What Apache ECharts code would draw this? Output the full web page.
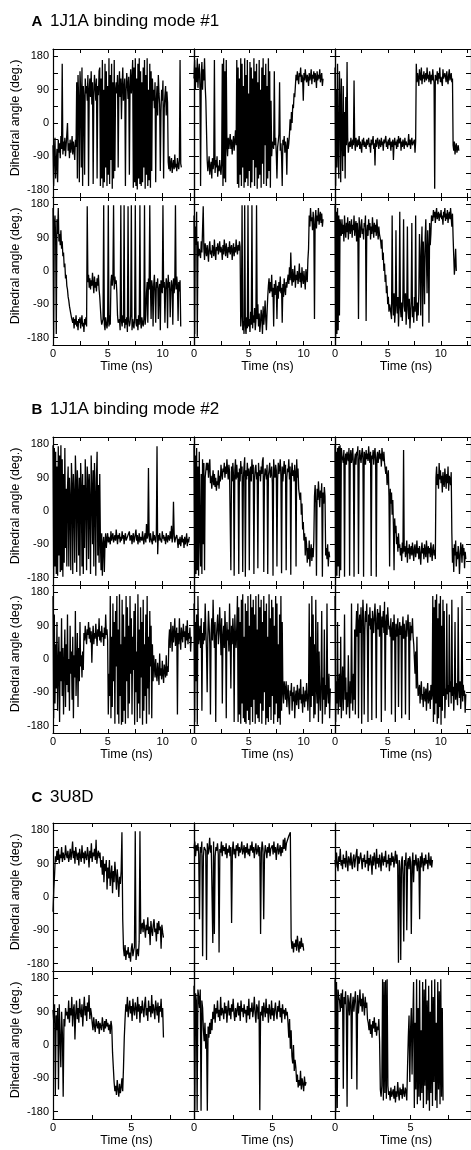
<!DOCTYPE html>
<html><head><meta charset="utf-8">
<script src="https://cdn.jsdelivr.net/npm/echarts@6/dist/echarts.min.js"></script>
<style>html,body{margin:0;padding:0;background:#fff}#c{width:471px;height:1150px}</style>
</head><body><div id="c"></div>
<script>
// ---- sampling steps (ns) ----
const dtA = 0.06, dtB = 0.06, dtC = 0.05;
// ---- tick labels ----
const yTicks = [-180,-135,-90,-45,0,45,90,135,180];
const yLabels = [-180,-90,0,90,180];
const xTicksAB = [0,2.5,5,7.5,10,12.5];
const xLabelsAB = [0,5,10];
const xTicksC = [0,2.5,5,7.5];
const xLabelsC = [0,5];
const titles = [['A','1J1A binding mode #1'],['B','1J1A binding mode #2'],['C','3U8D']];
const yName = 'Dihedral angle (deg.)';
const xName = 'Time (ns)';

// ---- A: 1J1A binding mode #1 ----
const a11 = [-60,-170,-90,-40,-150,-110,-70,-160,
 -45,-80,-55,-95,-35,-70,160,-85,-50,-75,-40,-90,-60,-30,0,-75,-55,-95,-45,-80,-65,-35,-85,-50,-70,-100,-45,-65,
 110,-150,130,60,-160,140,90,-120,150,-170,100,70,-140,120,80,
 100,60,130,-170,90,120,70,140,50,110,-165,80,130,95,60,120,-150,100,75,140,
 150,-170,120,-150,170,-175,90,-160,160,-120,140,-170,100,-140,175,-165,130,-100,160,-178,110,-150,170,-130,90,
 110,80,130,-120,95,140,70,120,10,100,150,60,90,120,-170,85,135,105,65,125,-140,95,145,80,115,
 170,-175,150,-160,175,-170,120,-180,160,-150,175,-165,140,-170,110,-160,150,-120,170,-178,130,-140,175,-170,90,-155,160,-175,140,-130,120,60,
 90,40,110,-160,60,100,20,130,80,50,-130,30,90,60,115,-150,40,75,100,20,85,55,
 -105,-125,-90,-130,-110,-95,-135,-115,-100,-125,-85,-120,-110,-130,-95,-115,-125,-100,170,-110,-120];
const a12 = [120,170,90,150,110,175,95,140,160,100,-170,130,165,90,145,115,175,100,60,-20,
 -100,-130,-110,-90,-140,-120,-105,-150,-95,-125,-110,170,-135,-100,-120,-90,-145,-115,-130,-100,-125,-140,-110,
 160,-170,175,-150,140,-160,170,-60,-90,-40,-70,-50,
 -30,-70,-45,-85,-55,-35,-75,-50,-20,-60,
 170,-165,150,-175,120,-140,175,-170,160,-120,100,-175,175,-160,130,-150,170,-170,80,-130,165,-175,150,-160,120,-100,175,-170,140,-120,160,-178,110,-150,170,-140,90,-175,150,-110,175,-165,130,-60,160,-170,100,-150,175,-130,140,-175,60,-90,-50,
 -45,-70,140,-60,-40,-85,-150,-65,-50,-30,110,-75,-55,-90,-170,-45,-60,-35,-80,-50,-65,-140,-40,-70,-55,
 -30,10,-20,30,0,50,40,80,70,100,
 130,115,140,120,105,135,125,150,110,130,120,60,135,115,145,125,110,130,120,100,135,115,125,145,105,130,120,140,110,135,125,95,140,115,130,120,145,110,125,135,100,120];
const a13 = [150,-170,90,-120,160,-80,-150,140,60,-160,120,-40,-130,100,-90,30,-150,70,-60,165,-40,-80,-60,
 -50,-65,-40,-55,-70,-45,-60,115,-50,-75,-40,-55,-65,-45,-60,-35,-70,-50,-55,-80,-45,-60,-40,-65,-50,-55,-70,-45,-60,-50,
 -40,-65,-55,-80,-45,-60,-50,-35,-70,-55,-115,-45,-65,-50,-40,-60,-70,-45,-55,-65,-40,-60,-50,-75,-45,-55,-60,-35,-65,-50,
 -70,-45,-60,-40,-55,-75,-50,-65,-45,-100,-55,-40,-60,-50,-70,-45,-65,-35,-55,-60,-40,-75,-50,-65,-45,-55,-70,-40,-60,-50,
 -45,-65,-55,-30,-60,-45,-70,-50,-40,-60,-55,-65,-45,-80,-50,
 160,110,135,120,100,145,125,115,150,105,130,120,140,110,125,135,115,150,120,130,110,140,125,105,130,115,145,120,110,-178,130,125,115,140,105,135,120,150,110,125,130,100,145,120,115,135,125,110,140,120,105,130,145,115,125,135,110,120,
 -60,-75,-50,-85,-65,-55,-80,-70,-60,-75];
const a21 = [170,-180,120,150,90,-170,140,100,170,80,
 100,70,110,60,80,40,50,10,20,-20,-10,-40,-50,-70,-80,-95,-100,-115,-125,-130,
 -140,-125,-155,-130,-145,-120,-150,-135,-160,-130,-140,-125,-155,-135,-120,-150,-140,-165,-130,-145,-125,-150,
 175,
 -30,-10,-45,-20,-50,-25,-40,-5,-35,-60,-15,-45,-30,-55,-20,-40,-10,-50,-70,-100,-130,-145,
 -150,-130,178,-145,-160,-125,-140,-155,-135,178,-150,-120,-145,
 -30,-10,-40,-20,178,-50,-15,-35,-25,-60,-120,-140,
 -145,-130,-160,178,-135,-150,-120,-140,178,-155,-130,-145,-125,-165,175,-135,-150,-140,-120,178,-160,-130,-145,-155,-125,178,-140,-150,-130,-160,-120,-145,178,-135,-155,-125,-140,-150,-130,178,-145,-120,
 -60,-30,-140,-20,-50,178,-40,-130,-25,-45,-150,-35,-10,-55,-140,-30,-45,-20,-130,-50,-35,-160,-25,-40,-60,178,-45,-30,-140,-50,-20,-35,-155,-10,-45,-30,-125,-55,-25,-40,-145,-20,-60,-35,178,-50,-15,-40,-135,-30,-55,-25,-150];
const a22 = [150,-170,120,70,160,-178,80,40,60,
 60,35,80,50,45,175,60,30,75,55,40,70,50,25,65,80,45,55,35,70,60,40,85,50,30,65,55,75,45,60,80,50,65,55,30,70,45,85,60,40,75,55,35,65,50,80,45,60,70,30,55,75,40,65,50,85,60,45,70,55,80,65,
 -150,-120,178,-160,-135,-170,178,-145,-170,-125,-155,178,-150,-130,-165,-110,-145,178,-155,-120,-140,-100,-160,-135,178,-130,-90,-150,-115,-165,-140,-105,-125,-170,-95,-145,-120,-80,-130,-160,-110,-70,
 -40,-20,-60,-30,-55,-10,-70,-45,-150,-35,-65,-25,-50,-130,-40,-75,-30,-55,-15,-60,-45,-140,-35,-70,-20,-50,-65,-30,-45,-25,
 -10,-35,10,-25,50,-15,-40,5,-30,-20,15,-45,-10,-25,0,-35,-15,20,-30,-5,-45,10,-20,-35,0,-25,-50,5,-15,-30,30,60,
 150,120,170,135,145,110,160,125,-130,140,165,115,150,135,170,125,145,160,130,155,120,140];
const a23 = [178,-178,160,-170,170,-160,150,-120,140,
 120,95,140,100,125,80,150,110,90,130,105,145,85,120,135,100,115,140,90,125,110,150,95,120,135,80,130,105,-130,145,110,90,125,140,100,115,85,130,120,150,-135,105,125,95,140,110,130,85,120,100,145,115,90,130,105,125,95,140,110,85,120,100,90,
 80,60,85,30,50,0,20,-30,-10,-60,-40,-90,-70,-110,-90,-100,
 -100,-130,150,-80,-120,-60,-140,-110,110,-90,-115,-70,-150,-95,160,-100,-125,-85,-135,-60,140,-95,-110,-60,-145,-105,120,-90,-130,-75,-155,-115,-80,130,-125,-95,-140,-70,-110,150,-100,-135,-85,-120,-60,
 100,30,-120,60,120,-150,80,20,-90,90,140,40,-60,110,60,-140,130,70,100,150,
 150,135,165,145,160,130,155,170,140,150,160,135,155,145,165,140,150,125,160,145,170,135,155,140,165,130,150,160,140,170,145,120,155,
 90,40,-10,20,60,0];

// ---- B: 1J1A binding mode #2 ----
const b11 = [178,-178,170,-150,160,-170,120,-175,175,-120,150,-165,178,-160,140,-178,100,-140,170,-100,60,-150,
 60,120,-150,90,30,-160,130,70,-170,100,40,-140,150,80,-165,110,50,-120,90,-175,130,60,-150,100,-170,70,-100,140,40,-160,120,80,-130,100,20,-170,150,60,-90,110,-150,130,40,-175,90,160,-120,70,-140,100,
 -80,-160,-60,-175,-90,-70,-165,-85,-60,-100,
 -75,-60,-85,-70,-65,-90,-55,-80,-70,-60,-85,-75,-65,-80,-50,-70,-90,-65,-75,-60,-85,-70,-80,-55,-75,-65,-90,-70,-60,-80,-75,-85,-65,-70,-55,-80,-75,-65,-90,-70,-60,-85,-75,-70,-50,-80,-65,-90,-75,-60,-85,-70,-65,-80,-55,-75,-90,-70,-60,-85,-35,-75,-65,
 116,
 -70,-85,-60,-75,-70,-90,-55,-80,-65,-75,-85,-60,
 175,-117,
 -65,-80,-60,-75,-70,-85,-55,-75,-65,-80,-70,-90,-60,-75,-85,-65,-70,-80,-55,-75,-40,-85,-70,
 25,
 -60,-85,-75,-70,-65,-80,-100,-75,-90,-70,-95,-80,-65,-85,-75,-100,-70,-90,-80,-60,-95,-75,-85,-70];
const b12 = [178,-178,150,-170,170,-160,120,-175,160,-60,-150,100,-170,140,-90,130,-160,90,110,130,
 110,130,90,120,140,75,95,60,85,110,70,100,65,90,55,80,70,110,60,95,80,125,100,85,115,105,130,90,120,100,140,110,85,125,105,
 100,-160,120,80,130,95,-175,110,140,85,125,90,105,-170,115,80,135,100,120,-165,90,120,145,-178,110,85,130,95,115,-160,105,120,80,140,100,125,-170,90,115,125,85,105,-155,130,95,110,80,120,100,135,145,-165,90,115,105,85,125,-170,95,110,130,90,100,120,75,-175,140,105,90,125,110,-150,85,130,100,115,140,95,-168,120,80,110,135,100,125,-160,90,115,105,140,85,120,-172,100,130,95,110,80,125,105,-150,140,90,115,60,
 60,30,50,-10,20,-50,-30,-80,-60,-120,-70,-90,-140,-100,-130,-80,-150,-110,-90,-135,-100,-125,-80,
 40,70,20,-175,60,30,80,45,10,55,35,75,-178,50,20,65,40,-120,-100,-130,-90,-150,-110,-125];
const b13 = [178,-178,160,-175,170,-150,175,-178,178,-160,170,150,
 150,130,165,-178,140,155,125,160,145,135,170,-175,150,165,130,145,170,120,-178,140,155,125,160,150,175,-170,135,165,145,130,155,170,140,-178,160,150,125,165,140,155,135,175,145,130,160,-176,150,140,165,125,155,170,135,-178,145,160,130,150,165,140,155,120,170,145,135,160,130,
 130,100,120,70,90,110,40,-150,60,20,50,-10,30,-40,-160,-20,-60,-40,-90,-70,-110,-60,-100,
 -90,-120,-100,-135,-85,-115,165,-110,-95,-125,-105,-80,-140,-100,-115,-90,-130,-105,-95,-120,-85,-110,-135,-100,-90,-125,-110,-80,-115,-100,-130,-95,-120,-145,-105,-85,-115,-100,-130,-90,-110,-125,-80,-105,-140,-95,-115,-100,-125,-85,-110,-135,-100,-90,-120,-105,-130,
 90,120,70,100,60,130,85,110,75,95,50,105,80,65,115,90,60,100,75,120,55,95,85,70,105,
 -60,-140,-100,-165,-90,-120,-80,-150,-110,-130,-95,-115,-170,-125,-85,-105,-140,-90,-120,-100,-155,-110,-130];
const b21 = [170,-160,120,-120,40,-80,100,-140,-20,60,-170,20,-60,110,-100,30,-150,-10,80,-130,40,-70,120,-90,0,-140,90,-40,20,-110,60,-160,10,-50,130,-100,-20,70,-130,30,-60,100,
 -20,10,-50,20,-30,
 70,50,90,60,40,80,65,100,55,85,45,75,-10,60,90,40,70,55,95,65,35,80,60,110,50,75,45,90,60,70,35,85,55,120,65,80,50,
 -150,-40,-100,
 170,-160,60,-130,150,-60,100,-175,130,-20,170,-150,80,-175,175,-100,40,-178,160,-170,120,-140,60,-175,170,-60,140,-160,90,-120,170,-40,110,-150,60,-30,130,-178,150,-90,20,-170,175,-120,80,-160,140,-50,100,-178,160,-140,40,-100,120,-175,170,-80,60,-150,130,-20,90,-160,40,-60,10,
 -20,-50,0,-40,-60,-10,-35,-70,15,-45,-25,-55,-5,-40,-65,-15,-30,-50,10,-45,-20,-35,
 50,80,30,100,60,20,90,45,70,110,35,65,85,-150,70,40,110,55,25,85,65,45,95,60,75,30,90,50,105,40,70,55,85,20,60];
const b22 = [150,-170,100,-60,120,-178,170,40,
 60,90,30,110,-140,70,40,100,50,150,80,20,-90,60,130,90,40,-150,70,110,50,160,80,30,100,-170,60,90,120,40,70,140,80,10,110,-120,60,90,30,130,70,-160,100,50,80,20,150,60,-80,90,40,110,70,-170,120,60,30,90,
 170,-170,140,-150,100,-175,160,-120,175,-160,60,-170,150,-175,130,-140,170,-165,90,-178,175,-130,140,-170,160,-110,120,-175,170,-150,80,-160,175,-170,140,-120,160,-175,100,-140,170,-90,130,-178,150,-160,60,-170,175,-130,110,-165,160,-100,140,-175,90,-150,170,-120,150,-170,40,-160,120,-178,170,-140,100,-90,-120,-60,
 -80,-110,-60,-130,-95,-70,-120,-150,-85,-100,-65,-140,-90,-115,-75,-160,-105,-85,-125,-70,-100,-135,-80,-110,-55,-120,-95,-145,-75,-105,-130,-85,-115,-65,-100,-140,-90,
 150,-170,60,-130,170,-100,120,-160,40,-150,160,-80,-120,100,-170,20,-90,-140,-60,130,-175,-50,-110,80,-150,-70,-130,150,-90,-120,-40,-160,-80];
const b23 = [170,-170,-60,-120,100,-150,-90,-40,-130,60,-160,-80,-20,-140,-70,120,-110,-50,-150,-90,-130,10,-100,-160,-60,-120,150,-80,-140,-40,-110,80,-150,
 80,130,60,150,-160,100,120,70,140,-175,90,160,110,-150,75,130,100,150,60,-170,120,90,140,80,110,-165,130,100,70,120,150,90,-160,110,135,80,125,60,145,100,-170,115,85,130,70,155,-140,95,120,65,140,105,80,
 90,60,110,-150,80,100,50,120,70,-170,95,60,85,110,-130,75,100,65,90,-160,80,115,55,95,70,-150,105,60,85,120,75,-165,100,50,90,70,110,60,
 40,0,-40,20,-80,60,-60,-100,
 -100,-70,-120,-85,-60,-110,-95,-130,-75,-100,-115,-80,-140,-90,-65,-120,-100,-85,-135,-70,-110,-95,
 170,-170,140,-150,160,-120,175,-175,110,-160,150,-130,170,-178,90,-140,160,-100,130,-160,
 -80,-110,150,-95,-70,-130,120,-90,-60,-120,160,-100,-75,-140,-85,100,-110,-65,-95,-125,140,-80,-105,-60,-135,-90,170,-115,-70,-100,-85,-145,-95];

// ---- C: 3U8D ----
const c11 = [-40,20,60,
 110,95,125,100,130,90,115,105,135,95,120,110,100,140,115,105,125,95,110,130,100,120,150,105,125,90,135,115,100,120,85,130,110,95,140,105,120,90,125,110,100,135,115,80,125,105,145,95,120,110,130,100,155,90,115,125,105,
 120,80,100,60,110,40,90,70,100,20,80,50,100,30,60,85,10,70,40,95,60,20,75,45,0,55,35,70,
 175,-60,
 -140,-160,-130,-170,-145,-155,-135,-165,-150,-175,-140,-125,-160,-145,-135,178,-170,-150,-140,-160,
 -120,178,-100,-80,
 -70,-95,-60,-85,-110,-75,-90,-55,-100,-80,-130,-65,-90,-105,-75,-60,-95,-85,-120,-70,-100,-65,-90,-80,-140,-75,-95,-110];
const c12 = [130,150,110,140,125,145,115,-60,135,120,150,-160,110,135,140,125,-170,145,115,130,160,120,140,135,-124,150,-100,110,135,125,145,115,-150,130,120,150,110,140,125,135,
 115,145,105,130,120,140,110,135,-70,125,150,115,130,105,140,125,145,110,135,120,130,150,115,125,140,105,135,120,145,115,130,110,140,125,150,120,135,105,130,145,
 115,125,140,110,135,-100,120,150,130,-60,115,140,125,105,135,120,145,110,130,125,140,115,150,120,135,100,130,145,115,125,140,110,135,120,155,130,160,125,145,140,
 150,165,170,175,
 -110,-140,-120,-150,-125,-135,-115,-145,-105,-130,-150,-120,-140,-110,-135,-125,-145];
const c13 = [100,80,120,90,70,110,95,130,85,100,75,115,90,105,80,125,95,70,110,100,85,120,90,75,105,115,80,100,95,130,70,110,90,85,120,100,75,105,95,115,80,100,90,125,70,105,85,115,95,60,
 110,85,120,100,75,130,90,105,80,115,95,70,120,100,85,110,95,125,80,100,90,115,70,105,85,120,95,110,80,100,
 125,90,115,85,-178,100,75,-170,95,110,60,-120,100,85,120,-90,90,105,75,110,95,-100,80,120,40,100,85,115,90,70,105,95,-60,110,80,120,95,70,105,85,115,90,100,75,120,95,85,110,80,100];
const c21 = [95,60,110,-136,80,40,100,-120,110,20,-60,90,30,-140,70,50,100,80,
 90,70,120,60,100,80,130,50,95,110,15,85,120,70,100,60,125,90,75,110,50,95,130,80,105,65,115,90,135,70,100,85,
 60,40,75,50,35,70,55,45,65,30,60,50,40,75,55,35,65,45,70,50,60,40,55,30,65,50,
 -20,-60,-100,-125,-110,-135,-95,-120,-140,-105,-130,-115,-90,-125,-60,20,
 70,110,90,130,75,100,120,85,105,65,125,95,80,115,100,70,130,90,110,60,105,85,120,95,75,110,130,80,100,65,120,90,105,75,135,85,110,95,70,120,100,80,115,60,105,90,125,75,100,20];
const c22 = [160,-178,140,120,-178,150,130,100,150,-178,120,100,
 40,10,60,-10,30,-178,50,20,60,30,70,40,
 90,70,110,60,100,85,120,75,95,65,130,80,100,90,70,115,85,105,60,95,120,80,100,70,110,90,125,85,65,100,75,95,115,80,105,65,120,90,100,75,110,85,95,60,105,80,125,70,100,90,
 115,75,95,130,85,60,110,100,70,120,-176,90,80,105,65,115,95,75,125,85,100,60,110,90,70,120,80,100,65,95,115,85,70,105,90,120,75,100,60,110,85,95,70,100,80,90,
 60,20,70,-10,40,-30,-50,0,-70,-40,
 -60,-100,-80,-115,-95,-110,-70,-120,-90,-105,-125,-85,-110,-100];
const c23 = [178,-178,170,-170,150,130,
 120,90,140,100,150,-118,130,110,145,95,-167,135,115,80,125,140,-92,105,130,90,120,145,100,-120,135,85,115,150,105,125,90,140,110,80,130,100,115,70,
 60,40,70,30,55,20,65,45,75,35,60,25,50,40,70,10,
 -120,-140,-110,178,-150,170,-130,175,-145,178,-110,-135,-125,-150,-115,-140,-130,-120,-145,-110,-155,-125,-140,-100,-130,-150,-115,-135,-120,-145,-105,-130,-140,-115,-125,-150,
 -60,20,80,-100,40,100,-80,60,
 170,-170,60,-120,178,-160,100,-140,175,-150,40,-130,170,-170,150,-110,178,-160,120,-150,160,-178,90,-130,175,-165,130,-100,178,-150,60,-170,170,-120,145,-160,178,-140,100,-150];

const sections = [
  {dt: dtA, xmax: 12.85, xt: xTicksAB, xl: xLabelsAB, rows: [[a11,a12,a13],[a21,a22,a23]]},
  {dt: dtB, xmax: 12.85, xt: xTicksAB, xl: xLabelsAB, rows: [[b11,b12,b13],[b21,b22,b23]]},
  {dt: dtC, xmax: 9, xt: xTicksC, xl: xLabelsC, rows: [[c11,c12,c13],[c21,c22,c23]]}
];

// ---- layout ----
const FONT = '"Liberation Sans", Arial, Helvetica, sans-serif';
const secTop = [49, 437, 823];
const titleY = [21.5, 409.5, 797.5];
const colLeft = [53, 194, 335];
const PW = 141, PH = 148;

const grid = [], xAxis = [], yAxis = [], series = [], graphic = [];
let k = 0;
sections.forEach((s, si) => {
  graphic.push({type:'text', x:31.5, y:titleY[si], style:{text:titles[si][0], fill:'#000', font:'bold 15px '+FONT, verticalAlign:'middle', textVerticalAlign:'middle'}});
  graphic.push({type:'text', x:50, y:titleY[si], style:{text:titles[si][1], fill:'#000', font:'17px '+FONT, verticalAlign:'middle', textVerticalAlign:'middle'}});
  s.rows.forEach((row, r) => {
    const top = secTop[si] + r*PH;
    graphic.push({type:'text', x:15.5, y:top+PH/2-5, rotation:Math.PI/2,
      style:{text:yName, fill:'#000', font:'12.5px '+FONT, align:'center', textAlign:'center', verticalAlign:'middle', textVerticalAlign:'middle'}});
    row.forEach((vals, c) => {
      grid.push({left: colLeft[c], top: top, width: PW, height: PH});
      const line = {show:true, onZero:false, lineStyle:{color:'#000', width:1.2}};
      const bottomRow = r === 1;
      xAxis.push({gridIndex:k, type:'value', position:'bottom', min:0, max:s.xmax,
        axisLine:line, splitLine:{show:false},
        axisTick:{show:true, inside:true, length:4, customValues:s.xt, lineStyle:{color:'#000'}},
        axisLabel:{show:bottomRow, customValues:s.xl, margin:3, fontSize:11, color:'#000', fontFamily:FONT},
        name: bottomRow ? xName : '', nameLocation:'middle', nameGap:14,
        nameTextStyle:{fontSize:12.5, color:'#000', fontFamily:FONT, padding:[0,0,0,6]}});
      xAxis.push({gridIndex:k, type:'value', position:'top', min:0, max:s.xmax,
        axisLine:line, splitLine:{show:false},
        axisTick:{show:true, inside:true, length:4, customValues:s.xt, lineStyle:{color:'#000'}},
        axisLabel:{show:false}});
      yAxis.push({gridIndex:k, type:'value', position:'left', min:-200, max:200,
        axisLine:line, splitLine:{show:false},
        axisTick:{show:true, inside:true, length:5, customValues:yTicks, lineStyle:{color:'#000'}},
        axisLabel:{show:c===0, customValues:yLabels, margin:4, fontSize:11, color:'#000', fontFamily:FONT}});
      yAxis.push({gridIndex:k, type:'value', position:'right', min:-200, max:200,
        axisLine:line, splitLine:{show:false},
        axisTick:{show:true, inside:true, length:5, customValues:yTicks, lineStyle:{color:'#000'}},
        axisLabel:{show:false}});
      series.push({type:'line', xAxisIndex:2*k, yAxisIndex:2*k, showSymbol:false, symbol:'none',
        lineStyle:{color:'#000', width:1.3}, animation:false, silent:true,
        data: vals.map((v, i) => [i*s.dt, v])});
      k++;
    });
  });
});

const chart = echarts.init(document.getElementById('c'), null, {renderer:'canvas'});
chart.setOption({animation:false, backgroundColor:'#fff', grid, xAxis, yAxis, series, graphic});
</script></body></html>
